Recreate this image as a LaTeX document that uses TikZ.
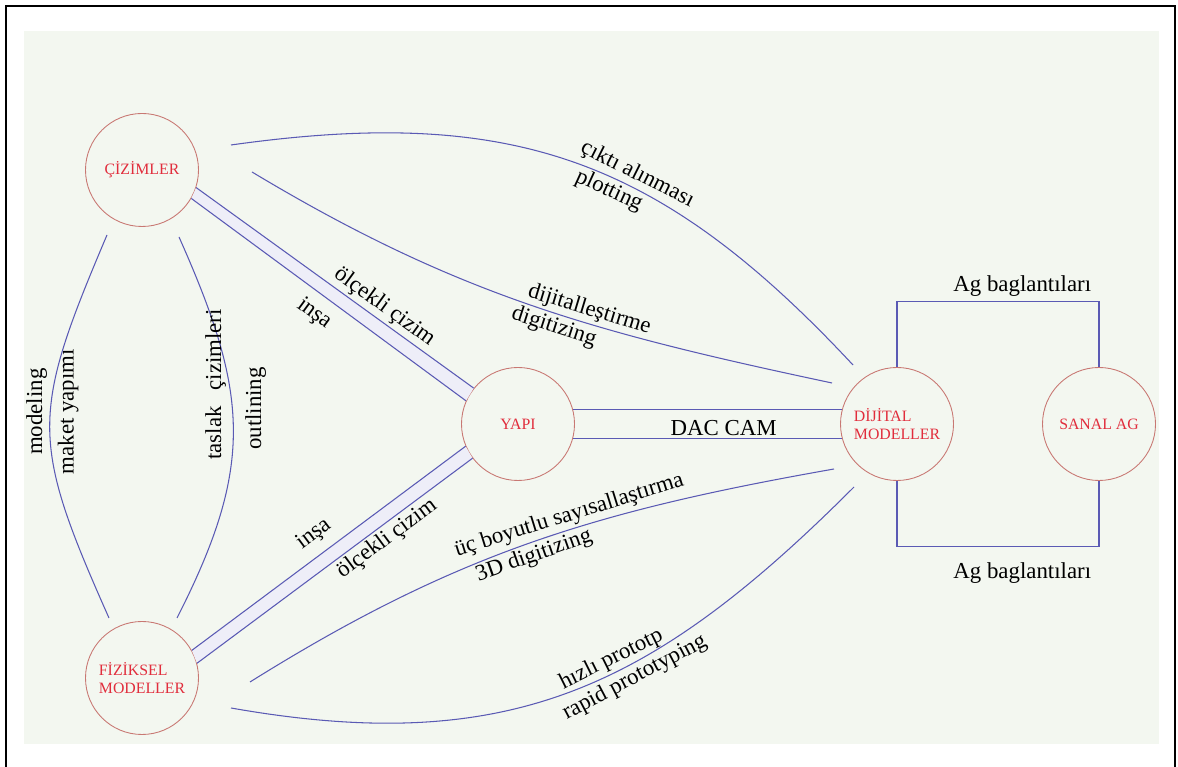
\documentclass[tikz,border=0pt]{standalone}
\usepackage{fontspec}
\setmainfont{Liberation Serif}
\usetikzlibrary{calc}
\definecolor{zemin}{RGB}{243,247,240}
\definecolor{mavi}{RGB}{90,90,180}
\definecolor{halka}{RGB}{200,120,115}
\definecolor{yazi}{RGB}{225,45,60}
\newcommand{\etk}[0]{\fontsize{13}{15}\selectfont}

\begin{document}
\begin{tikzpicture}[auto,scale=1,
		kavram/.style={circle,draw=halka,line width=0.5pt,minimum size=2.26cm,inner sep=0pt,text=yazi,align=left,font=\fontsize{9}{10.5}\selectfont},
		baglanti/.style={draw=mavi,line width=0.6pt},
		etiket/.style={font=\etk,inner sep=1.5pt},
		band/.style={fill=mavi!10}]
		\useasboundingbox (0,0) rectangle (23.56,15.34);
		\fill[zemin] (0.48,0.46) rectangle (23.18,14.72);
		\draw[line width=1.2pt] (0.12,0) |- (23.5,15.22) -- (23.5,0);
		% kavramlar
		\node[kavram] (ciz) at (2.84,11.94) {ÇİZİMLER};
		\node[kavram] (fiz) at (2.84,1.78) {FİZİKSEL\\MODELLER};
		\node[kavram] (yapi) at (10.36,6.86) {YAPI};
		\node[kavram] (dij) at (17.94,6.86) {DİJİTAL\\MODELLER};
		\node[kavram] (sanal) at (21.98,6.86) {SANAL AG};
		% cift hatlar
		\fill[band] (ciz.-18) -- (yapi.141) -- (yapi.156) -- (ciz.-30) -- cycle;
		\draw[baglanti] (ciz.-18) -- node[etiket,pos=0.65,sloped,above] {ölçekli çizim} (yapi.141);
		\draw[baglanti] (ciz.-30) -- node[etiket,pos=0.49,sloped,below=4pt] {inşa} (yapi.156);
		\fill[band] (fiz.29) -- (yapi.203) -- (yapi.217) -- (fiz.15) -- cycle;
		\draw[baglanti] (fiz.29) -- node[etiket,pos=0.49,sloped,above=4pt] {inşa} (yapi.203);
		\draw[baglanti] (fiz.15) -- node[etiket,pos=0.66,sloped,below] {ölçekli çizim} (yapi.217);
		\draw[baglanti] (yapi.15) -- (dij.165);
		\draw[baglanti] (yapi.-15) -- node[etiket,pos=0.56,above] {DAC CAM} (dij.-165);
		% egriler
		\draw[baglanti] ($(ciz)+(1.78,0.5)$) to[out=8,in=133,looseness=1.1]
			node[etiket,pos=0.6,sloped,above] {çıktı alınması}
			node[etiket,pos=0.57,sloped,below] {plotting} ($(dij)+(-0.88,1.18)$);
		\draw[baglanti] ($(ciz)+(2.2,-0.04)$) to[out=-31,in=168]
			node[etiket,pos=0.6,sloped,above] {dijitalleştirme}
			node[etiket,pos=0.55,sloped,below] {digitizing} ($(dij)+(-1.3,0.82)$);
		\draw[baglanti] ($(ciz)+(-0.7,-1.3)$) to[out=-113,in=114,looseness=1.3]
			node[etiket,pos=0.45,rotate=90,anchor=south] {modeling}
			node[etiket,pos=0.45,rotate=90,anchor=north,inner sep=4pt] {maket yapımı} ($(fiz)+(-0.66,1.2)$);
		\draw[baglanti] ($(ciz)+(0.74,-1.34)$) to[out=-66,in=63,looseness=1.15]
			node[etiket,pos=0.37,rotate=90,anchor=south] {taslak\hspace{0.7em}çizimleri}
			node[etiket,pos=0.44,rotate=90,anchor=north,inner sep=7pt] {outlining} ($(fiz)+(0.7,1.2)$);
		\draw[baglanti] ($(fiz)+(2.16,-0.08)$) to[out=32,in=190]
			node[etiket,pos=0.58,sloped,above] {üç boyutlu sayısallaştırma}
			node[etiket,pos=0.5,sloped,below] {3D digitizing} ($(dij)+(-1.26,-0.9)$);
		\draw[baglanti] ($(fiz)+(1.78,-0.6)$) to[out=-10,in=225,looseness=1.1]
			node[etiket,pos=0.58,sloped,above] {hızlı prototp}
			node[etiket,pos=0.6,sloped,below] {rapid prototyping} ($(dij)+(-0.86,-1.26)$);
		% ag baglantilari
		\draw[baglanti] (dij.north) -- ++(0,1.32) -| node[etiket,pos=0.31,above=1pt] {Ag baglantıları} (sanal.north);
		\draw[baglanti] (dij.south) -- ++(0,-1.32) -| node[etiket,pos=0.31,below=7pt] {Ag baglantıları} (sanal.south);
		%\draw[help lines] (0,0) grid (23,15);
		\end{tikzpicture}
\end{document}
